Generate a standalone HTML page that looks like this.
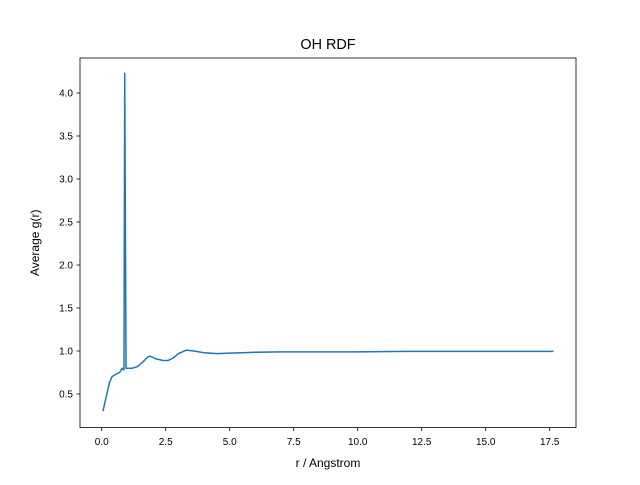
<!DOCTYPE html>
<html><head><meta charset="utf-8"><style>
body{margin:0;background:#fff}
svg text{font-family:"Liberation Sans","DejaVu Sans",sans-serif;fill:#000}
</style></head><body>
<svg id="chart" width="640" height="480" xmlns="http://www.w3.org/2000/svg">
<rect width="640" height="480" fill="#fff"/>
<text x="328" y="49" font-size="14.4" text-anchor="middle">OH RDF</text>
<g id="ticks"></g>
<path id="line" fill="none" stroke="#1f77b4" stroke-width="1.5" stroke-linejoin="round"/>
<rect x="80" y="58" width="496" height="369.6" fill="none" stroke="#000" stroke-width="0.8"/>
<text x="328" y="467" font-size="12" text-anchor="middle">r / Angstrom</text>
<text transform="translate(39,242.8) rotate(-90)" font-size="12" text-anchor="middle">Average g(r)</text>
</svg>
<script>
const rValues=[0.05,0.2,0.3,0.4,0.55,0.7,0.8,0.85,0.87,0.9,0.95,1.0,1.2,1.4,1.6,1.8,1.9,2.1,2.4,2.6,2.8,3.0,3.3,3.6,4.0,4.5,5.0,5.5,6.0,7.0,8.0,10.0,12.0,15.0,17.65];
const gValues=[0.3,0.5,0.63,0.7,0.73,0.75,0.8,0.78,0.78,4.23,0.8,0.8,0.8,0.82,0.87,0.93,0.94,0.91,0.89,0.89,0.92,0.97,1.01,1.0,0.98,0.97,0.975,0.98,0.985,0.99,0.99,0.99,0.995,0.995,0.995];
const xTicks=[0,2.5,5,7.5,10,12.5,15,17.5];
const xTickLabels=["0.0","2.5","5.0","7.5","10.0","12.5","15.0","17.5"];
const yTicks=[0.5,1,1.5,2,2.5,3,3.5,4];
const yTickLabels=["0.5","1.0","1.5","2.0","2.5","3.0","3.5","4.0"];
const xs=v=>101.7+v*25.6;
const ys=v=>394-(v-0.5)*86;
const ns="http://www.w3.org/2000/svg";
document.getElementById('line').setAttribute('d',rValues.map((r,i)=>(i?'L':'M')+xs(r)+','+ys(gValues[i])).join(''));
const g=document.getElementById('ticks');
xTicks.forEach((t,i)=>{
 const l=document.createElementNS(ns,'line');
 
 
 l.setAttribute('x1',xs(t));l.setAttribute('x2',xs(t));l.setAttribute('y1',427.6);l.setAttribute('y2',431.1);l.setAttribute('stroke','#000');l.setAttribute('stroke-width','0.8');g.appendChild(l);
 const tx=document.createElementNS(ns,'text');
 
 
 tx.setAttribute('x',xs(t));tx.setAttribute('y',445);tx.setAttribute('font-size','10');tx.setAttribute('text-anchor','middle');tx.textContent=xTickLabels[i];g.appendChild(tx);
});
yTicks.forEach((t,i)=>{
 const l=document.createElementNS(ns,'line');
 
 
 l.setAttribute('x1',76.5);l.setAttribute('x2',80);l.setAttribute('y1',ys(t));l.setAttribute('y2',ys(t));l.setAttribute('stroke','#000');l.setAttribute('stroke-width','0.8');g.appendChild(l);
 const tx=document.createElementNS(ns,'text');
 
 
 tx.setAttribute('x',73);tx.setAttribute('y',ys(t)+3.6);tx.setAttribute('font-size','10');tx.setAttribute('text-anchor','end');tx.textContent=yTickLabels[i];g.appendChild(tx);
});
</script>
</body></html>
